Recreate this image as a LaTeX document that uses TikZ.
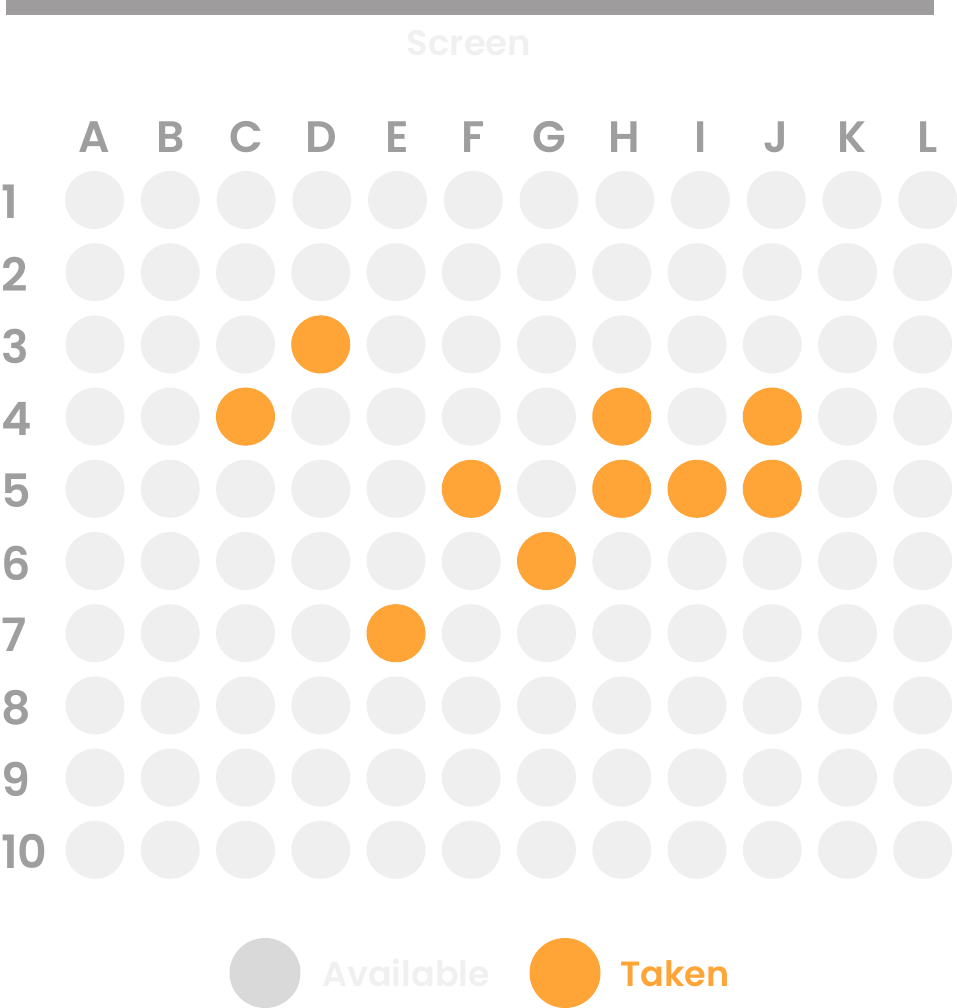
\documentclass[tikz,border=0pt]{standalone}
\usepackage{fontspec}
\setmainfont{Poppins SemiBold}
\definecolor{seatfree}{HTML}{EFEFEF}
\definecolor{seattaken}{HTML}{FFA437}
\definecolor{labelgray}{HTML}{9F9E9E}
\definecolor{bargray}{HTML}{9E9C9D}
\definecolor{legendgray}{HTML}{D9D9D9}
\definecolor{faint}{HTML}{F0F0F0}
\begin{document}
\begin{tikzpicture}[x=1pt,y=-1pt,
  seat/.style={ellipse, minimum width=59pt, minimum height=58pt, inner sep=0pt, fill=seatfree},
  taken/.style={fill=seattaken},
  collabel/.style={anchor=base, inner sep=0pt, text=labelgray, font=\fontsize{44}{50}\selectfont},
  rowlabel/.style={anchor=west, inner sep=0pt, text depth=0pt, text=labelgray, font=\fontsize{46}{50}\selectfont},
  legendtext/.style={anchor=base west, inner sep=0pt, font=\fontsize{35}{40}\selectfont},
  legenddot/.style={ellipse, minimum width=71pt, minimum height=70pt, inner sep=0pt}]
\usetikzlibrary{shapes.geometric}
\useasboundingbox (0,0) rectangle (957,1008);
% screen bar
\fill[bargray] (6,0) rectangle (934,15);
\node[anchor=base, inner sep=0pt, text=faint, font=\fontsize{35.5}{40}\selectfont] (screen) at (469,56) {Screen};
% column labels
\foreach \L [count=\i from 0] in {A,B,C,D,E,F,G,H,I,J,K,L}
  \node[collabel] (col\L) at ({94.5+75.75*\i},153) {\L};
% row labels
\foreach \r in {1,...,10}
  \node[rowlabel] (row\r) at (1,{202+72.2*(\r-1)}) {\r};
% seats
\foreach \L [count=\i from 0] in {A,B,C,D,E,F,G,H,I,J,K,L}{
  \node[seat] (s1\L) at ({94.5+75.75*\i},200) {};
  \foreach \r in {2,...,10}
    \node[seat] (s\r\L) at ({95+75.25*\i},{200+72.2*(\r-1)}) {};
}
% taken seats
\foreach \s in {3D,4C,4H,4J,5F,5H,5I,5J,6G,7E}
  \node[seat,taken] at (s\s) {};
% legend
\node[legenddot, fill=legendgray] (legfree) at (265,973) {};
\node[legendtext, text=faint] (legfreetxt) at (322,986) {Available};
\node[legenddot, fill=seattaken] (legtaken) at (565,973) {};
\node[legendtext, text=seattaken] (legtakentxt) at (620,986) {Taken};
\end{tikzpicture}
\end{document}
